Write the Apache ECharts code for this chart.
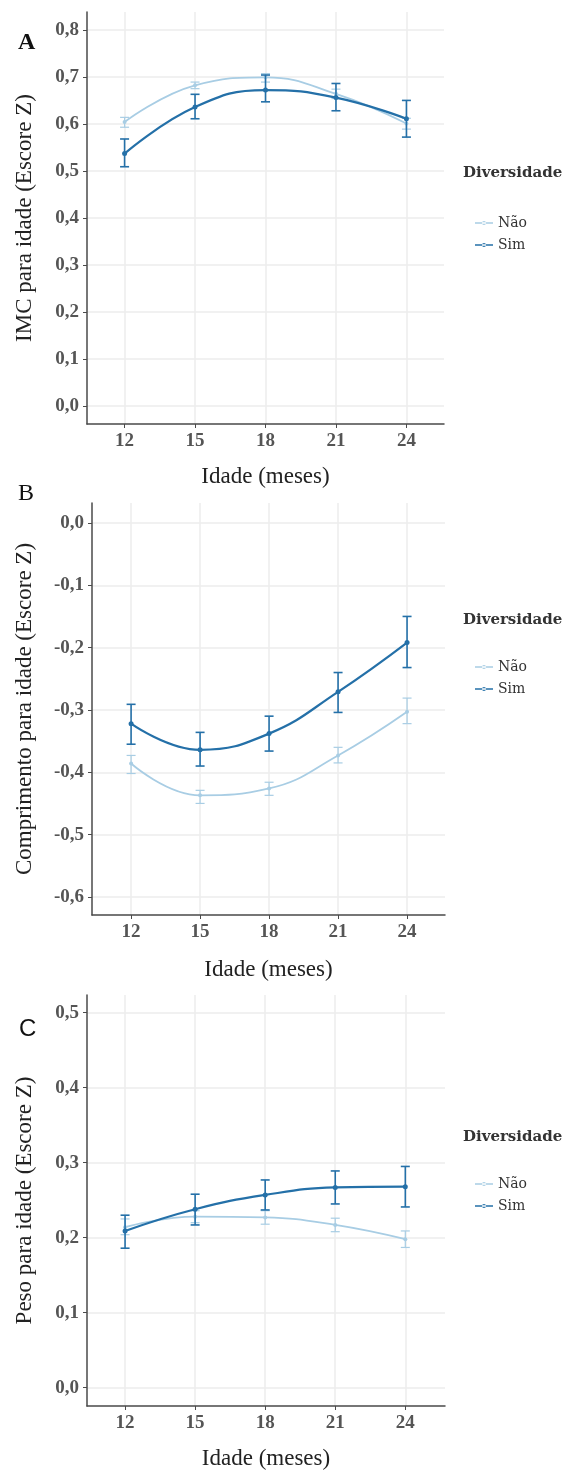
<!DOCTYPE html>
<html>
<head>
<meta charset="utf-8">
<script src="https://cdn.jsdelivr.net/npm/echarts@6/dist/echarts.min.js"></script>
<style>
  html, body { margin: 0; padding: 0; background: #fff; }
  #chart { width: 564px; height: 1470px; }
</style>
</head>
<body>
<div id="chart"></div>
<script>
// idade em meses
var meses = [12, 15, 18, 21, 24];

// A - IMC para idade
var imcTicks = [0, 0.1, 0.2, 0.3, 0.4, 0.5, 0.6, 0.7, 0.8];
var imcNao = [0.604, 0.682, 0.699, 0.664, 0.601];
var imcNaoLo = [0.593, 0.675, 0.689, 0.654, 0.589];
var imcNaoHi = [0.614, 0.689, 0.707, 0.674, 0.612];
var imcSim = [0.537, 0.636, 0.672, 0.656, 0.611];
var imcSimLo = [0.509, 0.611, 0.647, 0.628, 0.572];
var imcSimHi = [0.568, 0.663, 0.704, 0.686, 0.650];

// B - Comprimento para idade
var compTicks = [-0.6, -0.5, -0.4, -0.3, -0.2, -0.1, 0];
var compNao = [-0.386, -0.437, -0.426, -0.373, -0.303];
var compNaoLo = [-0.402, -0.450, -0.437, -0.385, -0.322];
var compNaoHi = [-0.373, -0.429, -0.416, -0.360, -0.281];
var compSim = [-0.322, -0.364, -0.338, -0.271, -0.192];
var compSimLo = [-0.355, -0.390, -0.366, -0.304, -0.232];
var compSimHi = [-0.291, -0.336, -0.310, -0.240, -0.150];

// C - Peso para idade
var pesoTicks = [0, 0.1, 0.2, 0.3, 0.4, 0.5];
var pesoNao = [0.214, 0.228, 0.227, 0.217, 0.198];
var pesoNaoLo = [0.204, 0.220, 0.218, 0.208, 0.187];
var pesoNaoHi = [0.225, 0.236, 0.236, 0.226, 0.209];
var pesoSim = [0.209, 0.238, 0.257, 0.267, 0.268];
var pesoSimLo = [0.186, 0.217, 0.237, 0.245, 0.241];
var pesoSimHi = [0.230, 0.258, 0.277, 0.289, 0.295];

var corNao = '#a8cde4';
var corSim = '#2470a8';
var serif = '"Liberation Serif", "DejaVu Serif", serif';

function fmt(v) {
    return v.toFixed(1).replace('.', ',');
}

// barras de erro
function errRender(color, width) {
    return function (params, api) {
        var x = api.value(0);
        var p1 = api.coord([x, api.value(1)]);
        var p2 = api.coord([x, api.value(2)]);
        var w = 4.5;
        var st = { stroke: color, lineWidth: width };
        return {
            type: 'group',
            children: [
                { type: 'line', shape: { x1: p1[0], y1: p1[1], x2: p2[0], y2: p2[1] }, style: st },
                { type: 'line', shape: { x1: p1[0] - w, y1: p1[1], x2: p1[0] + w, y2: p1[1] }, style: st },
                { type: 'line', shape: { x1: p2[0] - w, y1: p2[1], x2: p2[0] + w, y2: p2[1] }, style: st }
            ]
        };
    };
}

function pares(ys) {
    return meses.map(function (m, i) { return [m, ys[i]]; });
}
function trios(lo, hi) {
    return meses.map(function (m, i) { return [m, lo[i], hi[i]]; });
}

var grids = [], xAxes = [], yAxes = [], series = [];

function painel(i, cfg) {
    grids.push({
        left: cfg.left, top: cfg.top, width: cfg.width, height: cfg.height,
        containLabel: false, outerBoundsMode: 'none'
    });
    xAxes.push({
        type: 'value', gridIndex: i, min: cfg.xMin, max: cfg.xMax,
        name: 'Idade (meses)', nameLocation: 'middle', nameGap: cfg.xGap,
        nameTextStyle: { fontFamily: serif, fontSize: 23, color: '#222' },
        axisLine: { onZero: false, lineStyle: { color: '#4a4a4a', width: 1.5 } },
        axisTick: { show: true, length: 4, customValues: meses, lineStyle: { color: '#4a4a4a' } },
        axisLabel: { customValues: meses, margin: 8, fontFamily: serif, fontSize: 19, fontWeight: 'bold', color: '#555' },
        splitLine: { show: true, lineStyle: { color: '#ececec', width: 1.5 } }
    });
    yAxes.push({
        type: 'value', gridIndex: i, min: cfg.yMin, max: cfg.yMax,
        name: cfg.yName, nameLocation: 'middle', nameRotate: 90, nameGap: cfg.yGap,
        nameTextStyle: { fontFamily: serif, fontSize: 23, color: '#222' },
        axisLine: { show: true, onZero: false, lineStyle: { color: '#4a4a4a', width: 1.5 } },
        axisTick: { show: true, length: 4, customValues: cfg.ticks, lineStyle: { color: '#4a4a4a' } },
        axisLabel: { customValues: cfg.ticks, margin: 8, formatter: fmt, fontFamily: serif, fontSize: 19, fontWeight: 'bold', color: '#555' },
        splitLine: { show: true, lineStyle: { color: '#ececec', width: 1.5 } }
    });
    series.push({
        type: 'custom', xAxisIndex: i, yAxisIndex: i, z: 2,
        renderItem: errRender(corNao, 1.2), encode: { x: 0, y: [1, 2] },
        data: trios(cfg.naoLo, cfg.naoHi)
    });
    series.push({
        name: 'Não', type: 'line', xAxisIndex: i, yAxisIndex: i, z: 3,
        smooth: 0.45, symbol: 'circle', symbolSize: 4,
        itemStyle: { color: corNao }, lineStyle: { color: corNao, width: 1.8 },
        data: pares(cfg.nao)
    });
    series.push({
        type: 'custom', xAxisIndex: i, yAxisIndex: i, z: 4,
        renderItem: errRender(corSim, 1.6), encode: { x: 0, y: [1, 2] },
        data: trios(cfg.simLo, cfg.simHi)
    });
    series.push({
        name: 'Sim', type: 'line', xAxisIndex: i, yAxisIndex: i, z: 5,
        smooth: 0.45, symbol: 'circle', symbolSize: 5,
        itemStyle: { color: corSim }, lineStyle: { color: corSim, width: 2.2 },
        data: pares(cfg.sim)
    });
}

painel(0, {
    left: 87, top: 12, width: 357, height: 412, xMin: 10.4, xMax: 25.6, xGap: 41,
    yMin: -0.038, yMax: 0.838, ticks: imcTicks, yGap: 51, yName: 'IMC para idade (Escore Z)',
    nao: imcNao, naoLo: imcNaoLo, naoHi: imcNaoHi, sim: imcSim, simLo: imcSimLo, simHi: imcSimHi
});
painel(1, {
    left: 92, top: 503, width: 353, height: 412, xMin: 10.3, xMax: 25.65, xGap: 43,
    yMin: -0.629, yMax: 0.032, ticks: compTicks, yGap: 56, yName: 'Comprimento para idade (Escore Z)',
    nao: compNao, naoLo: compNaoLo, naoHi: compNaoHi, sim: compSim, simLo: compSimLo, simHi: compSimHi
});
painel(2, {
    left: 87, top: 995, width: 358, height: 411, xMin: 10.37, xMax: 25.7, xGap: 41,
    yMin: -0.0244, yMax: 0.5236, ticks: pesoTicks, yGap: 51, yName: 'Peso para idade (Escore Z)',
    nao: pesoNao, naoLo: pesoNaoLo, naoHi: pesoNaoHi, sim: pesoSim, simLo: pesoSimLo, simHi: pesoSimHi
});

// ícone da legenda: linha com ponto pequeno
var iconeLinha = 'path://M0,4.3H18V5.7H0Z M7,5a2,2 0 1,0 4,0a2,2 0 1,0 -4,0Z';

function legenda(top) {
    return {
        orient: 'vertical', left: 470, top: top, itemWidth: 18, itemHeight: 10, itemGap: 8,
        icon: iconeLinha,
        data: ['Não', 'Sim'],
        textStyle: { fontFamily: '"DejaVu Serif", serif', fontSize: 14, color: '#333' }
    };
}

function titulo(y) {
    return {
        type: 'text', left: 463, top: y - 10,
        style: { text: 'Diversidade', font: 'bold 15px "DejaVu Serif", serif', fill: '#333' }
    };
}

var myChart = echarts.init(document.getElementById('chart'));
var option = {
    animation: false,
    backgroundColor: '#fff',
    grid: grids,
    xAxis: xAxes,
    yAxis: yAxes,
    legend: [legenda(211), legenda(655), legenda(1172)],
    graphic: [
        titulo(176), titulo(623), titulo(1140),
        { type: 'text', left: 18, top: 31, style: { text: 'A', font: 'bold 24px "Liberation Serif", serif', fill: '#111' } },
        { type: 'text', left: 18, top: 482, style: { text: 'B', font: '24px "Liberation Serif", serif', fill: '#111' } },
        { type: 'text', left: 19, top: 1017, style: { text: 'C', font: '24px "Liberation Sans", sans-serif', fill: '#111' } }
    ],
    series: series
};
myChart.setOption(option);
</script>
</body>
</html>
